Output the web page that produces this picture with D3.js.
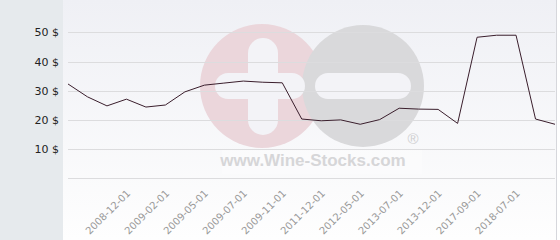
<!DOCTYPE html>
<html>
<head>
<meta charset="utf-8">
<script src="https://cdnjs.cloudflare.com/ajax/libs/d3/7.8.5/d3.min.js"></script>
<style>
  body { margin: 0; padding: 0; background: #fff; }
  svg { display: block; font-family: "DejaVu Sans", sans-serif; }
</style>
</head>
<body>
<div id="chart"></div>
<script>
// Prices in $, one per point, left to right
const prices = [32.3, 27.9, 24.8, 27.1, 24.4, 25.1, 29.6, 31.9, 32.6, 33.3, 32.9, 32.7, 20.3,
    19.7, 20.0, 18.5, 20.1, 24.0, 23.7, 23.6, 18.8, 48.3, 49.0, 49.0, 20.3, 18.5];

// Dates shown on the x axis and the point each one belongs to
const tickLabels = ["2008-12-01", "2009-02-01", "2009-05-01", "2009-07-01", "2009-11-01",
    "2011-12-01", "2012-05-01", "2013-07-01", "2013-12-01", "2017-09-01", "2018-07-01"];
const tickIndex = [3, 5, 7, 9, 11, 13, 15, 17, 19, 21, 23];

const yTicks = [10, 20, 30, 40, 50];

const width = 560, height = 240;

const svg = d3.select("#chart")
    .append("svg")
    .attr("width", width)
    .attr("height", height);

// Background gradient for the plot area
const defs = svg.append("defs");
const grad = defs.append("linearGradient")
    .attr("id", "bg")
    .attr("x1", 0).attr("y1", 0).attr("x2", 0).attr("y2", 1);
grad.append("stop").attr("offset", "0%").attr("stop-color", "#eff0f5");
grad.append("stop").attr("offset", "100%").attr("stop-color", "#fefefe");

svg.append("rect")
    .attr("x", 63).attr("y", 0)
    .attr("width", 493).attr("height", height)
    .attr("fill", "url(#bg)");

// Left grey panel
svg.append("rect")
    .attr("x", 0).attr("y", 0)
    .attr("width", 63).attr("height", height)
    .attr("fill", "#e6eaed");

// right border
svg.append("line")
    .attr("x1", 556.5).attr("x2", 556.5)
    .attr("y1", 0).attr("y2", height)
    .attr("stroke", "#d6d7dc");

// Scales
const xScale = d3.scalePoint()
    .domain(d3.range(prices.length))
    .range([68, 555]);

const yScale = d3.scaleLinear()
    .domain([0, 50])
    .range([178.3, 32.3]);

// Watermark (drawn behind the grid)
const wm = svg.append("g").attr("class", "watermark");
wm.append("rect")
    .attr("x", 222).attr("y", 150)
    .attr("width", 200).attr("height", 24)
    .attr("fill", "#ffffff").attr("opacity", 0.3);
wm.append("circle")
    .attr("cx", 262).attr("cy", 86).attr("r", 62)
    .attr("fill", "#ebd6db");
wm.append("circle")
    .attr("cx", 363).attr("cy", 86).attr("r", 61)
    .attr("fill", "#d9d9db");
// plus sign
wm.append("rect")
    .attr("x", 248).attr("y", 38)
    .attr("width", 30).attr("height", 97)
    .attr("rx", 15)
    .attr("fill", "#f3f3f7");
wm.append("rect")
    .attr("x", 215).attr("y", 73)
    .attr("width", 90).attr("height", 26)
    .attr("rx", 13)
    .attr("fill", "#f3f3f7");
// minus sign
wm.append("rect")
    .attr("x", 315).attr("y", 73)
    .attr("width", 96).attr("height", 26)
    .attr("rx", 13)
    .attr("fill", "#f3f3f7");
wm.append("text")
    .attr("x", 313).attr("y", 166)
    .attr("text-anchor", "middle")
    .style("font-family", "'Liberation Sans', Arial, sans-serif")
    .style("font-weight", "bold")
    .style("font-size", "17px")
    .attr("fill", "#d6d6d8")
    .text("www.Wine-Stocks.com");
wm.append("text")
    .attr("x", 413).attr("y", 144)
    .attr("text-anchor", "middle")
    .style("font-family", "'Liberation Sans', Arial, sans-serif")
    .style("font-size", "15px")
    .attr("fill", "#cfcfd1")
    .text("®");

// Grid lines
svg.append("g")
    .selectAll("line")
    .data([0].concat(yTicks))
    .enter()
    .append("line")
    .attr("x1", 68).attr("x2", 555)
    .attr("y1", d => Math.round(yScale(d)) + 0.5)
    .attr("y2", d => Math.round(yScale(d)) + 0.5)
    .attr("stroke", "#dcdcde")
    .attr("stroke-width", 1);

// Y axis labels
const yAxis = svg.append("g")
    .attr("transform", "translate(63,0)")
    .call(d3.axisLeft(yScale).tickValues(yTicks).tickSize(0).tickPadding(4)
        .tickFormat(d => d + " $"));
yAxis.select(".domain").remove();
yAxis.selectAll("text")
    .attr("fill", "#222")
    .style("font-size", "11px")
    .style("font-family", "'DejaVu Sans', sans-serif");

// X axis labels
const xAxis = svg.append("g")
    .attr("transform", "translate(0,178)")
    .call(d3.axisBottom(xScale).tickValues(tickIndex).tickSize(0)
        .tickFormat((d, i) => tickLabels[i]));
xAxis.select(".domain").remove();
xAxis.selectAll("text")
    .attr("fill", "#999")
    .style("font-size", "10px")
    .style("font-family", "'DejaVu Sans', sans-serif")
    .attr("text-anchor", "end")
    .attr("dy", 0)
    .attr("y", 0)
    .attr("transform", "translate(4,16) rotate(-45)");

// Price line
const line = d3.line()
    .x((d, i) => xScale(i))
    .y(d => yScale(d));

svg.append("path")
    .datum(prices)
    .attr("d", line)
    .attr("fill", "none")
    .attr("stroke", "#3a1e2c")
    .attr("stroke-width", 1);
</script>
</body>
</html>
